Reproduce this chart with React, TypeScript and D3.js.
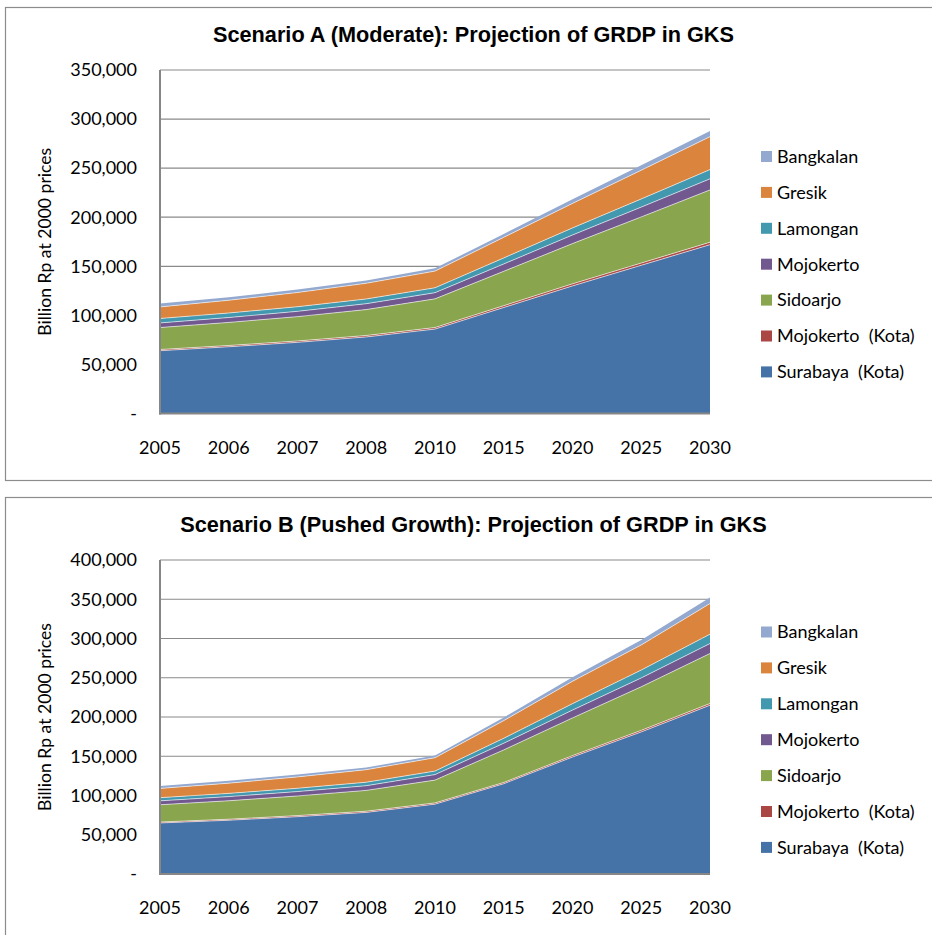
import React from "react";
import * as d3 from "d3";

const years = ["2005", "2006", "2007", "2008", "2010", "2015", "2020", "2025", "2030"];
const seriesNames = ["Surabaya  (Kota)", "Mojokerto  (Kota)", "Sidoarjo", "Mojokerto", "Lamongan", "Gresik", "Bangkalan"];
const seriesColors = ["#4572A7", "#AA4643", "#89A54E", "#71588F", "#4198AF", "#DB843D", "#93A9CF"];

// Scenario A (Moderate), Billion Rp at 2000 prices
const aSurabaya = [64000, 68000, 72500, 78000, 86000, 108000, 130000, 151000, 172000];
const aMojokertoKota = [1200, 1300, 1400, 1500, 1600, 1900, 2100, 2300, 2500];
const aSidoarjo = [22400, 23500, 24800, 26400, 29200, 35000, 41000, 47000, 53300];
const aMojokerto = [4700, 5000, 5400, 6000, 6300, 7500, 8800, 10000, 11300];
const aLamongan = [4500, 4600, 4700, 4800, 5000, 6100, 7200, 8300, 9400];
const aGresik = [11800, 13000, 14500, 16000, 17000, 21000, 25000, 29300, 33600];
const aBangkalan = [3400, 3000, 3000, 2800, 2800, 3500, 4300, 5000, 5700];

// Scenario B (Pushed Growth)
const bSurabaya = [65000, 68500, 73000, 78500, 89000, 115000, 149000, 181000, 215000];
const bMojokertoKota = [1200, 1300, 1400, 1500, 1600, 1600, 1800, 2000, 2200];
const bSidoarjo = [22000, 23500, 25000, 26500, 29000, 41500, 48000, 55500, 63700];
const bMojokerto = [5000, 5300, 5600, 6000, 7000, 8500, 10000, 11300, 12700];
const bLamongan = [4000, 4100, 4200, 4400, 4500, 6300, 8200, 10000, 11900];
const bGresik = [11800, 13000, 14500, 16000, 17000, 22500, 28500, 32000, 39000];
const bBangkalan = [3000, 3000, 3000, 2800, 2800, 4000, 5200, 6400, 7600];

const aTicks = [0, 50000, 100000, 150000, 200000, 250000, 300000, 350000];
const bTicks = [0, 50000, 100000, 150000, 200000, 250000, 300000, 350000, 400000];

const titleA = "Scenario A (Moderate): Projection of GRDP in GKS";
const titleB = "Scenario B (Pushed Growth): Projection of GRDP in GKS";
const yAxisTitle = "Billion Rp at 2000 prices";

const FONT = "Lato, 'Open Sans', sans-serif";
const fmt = d3.format(",");

type ChartProps = {
  title: string;
  series: number[][];
  ticks: number[];
  frameTop: number;
  frameBottom: number;
  plotTop: number;
  plotBottom: number;
  legendTop: number;
};

function Chart({ title, series, ticks, frameTop, frameBottom, plotTop, plotBottom, legendTop }: ChartProps) {
  const plotLeft = 160;
  const plotRight = 710;
  const x = d3.scalePoint<string>().domain(years).range([plotLeft, plotRight]);
  const y = d3
    .scaleLinear()
    .domain([0, ticks[ticks.length - 1]])
    .range([plotBottom, plotTop]);

  const rows = years.map((yr, i) => {
    const r: Record<string, number | string> = { year: yr };
    seriesNames.forEach((n, k) => (r[n] = series[k][i]));
    return r;
  });
  const stacked = d3.stack<any>().keys(seriesNames)(rows as any);
  const area = d3
    .area<any>()
    .x((d) => x(d.data.year) as number)
    .y0((d) => y(d[0]))
    .y1((d) => y(d[1]));
  const topLine = d3
    .line<any>()
    .x((d) => x(d.data.year) as number)
    .y((d) => y(d[1]));

  return (
    <g>
      <rect x={5.5} y={frameTop + 0.5} width={1000} height={frameBottom - frameTop} fill="#fff" stroke="#8c8c8c" strokeWidth={1.2} />
      <text x={473.5} y={frameTop + 35} textAnchor="middle" fontFamily="'Liberation Sans', Arial, sans-serif" fontWeight="bold" fontSize={21.7} fill="#000">
        {title}
      </text>
      {ticks.slice(1).map((t) => (
        <line key={t} x1={plotLeft} x2={plotRight} y1={y(t)} y2={y(t)} stroke="#8a8a8a" strokeWidth={1.2} />
      ))}
      {stacked.map((s, k) => (
        <path key={seriesNames[k]} d={area(s) as string} fill={seriesColors[k]} />
      ))}
      {stacked.slice(0, stacked.length - 1).map((s, k) => (
        <path key={"l" + k} d={topLine(s) as string} fill="none" stroke="#ffffff" strokeOpacity={0.75} strokeWidth={0.8} />
      ))}
      <line x1={plotLeft} x2={plotLeft} y1={plotTop} y2={plotBottom + 1} stroke="#868686" strokeWidth={2} />
      <line x1={plotLeft - 1} x2={plotRight} y1={plotBottom} y2={plotBottom} stroke="#868686" strokeWidth={2} />
      {ticks.map((t) => (
        <text key={"t" + t} x={137} y={y(t)} dy="0.35em" textAnchor="end" fontFamily={FONT} fontSize={18} fill="#000">
          {t === 0 ? "-" : fmt(t)}
        </text>
      ))}
      {years.map((yr) => (
        <text key={yr} x={x(yr) as number} y={plotBottom + 34} dy="0.35em" textAnchor="middle" fontFamily={FONT} fontSize={18} fill="#000">
          {yr}
        </text>
      ))}
      <text
        transform={`translate(45,${(plotTop + plotBottom) / 2}) rotate(-90)`}
        textAnchor="middle"
        dy="0.35em"
        fontFamily={FONT}
        fontSize={17.6}
        fill="#000"
      >
        {yAxisTitle}
      </text>
      {seriesNames
        .map((n, k) => ({ n, k }))
        .reverse()
        .map(({ n, k }, i) => {
          const cy = legendTop + i * 35.9;
          return (
            <g key={"lg" + n}>
              <rect x={761} y={cy - 5.5} width={11} height={11} fill={seriesColors[k]} />
              <text x={777} y={cy} dy="0.35em" fontFamily={FONT} fontSize={18} fill="#000" style={{ whiteSpace: "pre" }}>
                {n}
              </text>
            </g>
          );
        })}
    </g>
  );
}

export default function App() {
  const aSeries = [aSurabaya, aMojokertoKota, aSidoarjo, aMojokerto, aLamongan, aGresik, aBangkalan];
  const bSeries = [bSurabaya, bMojokertoKota, bSidoarjo, bMojokerto, bLamongan, bGresik, bBangkalan];
  return (
    <svg width={932} height={935} style={{ position: "absolute", left: 0, top: 0, background: "#fff" }}>
      <rect width={932} height={935} fill="#fff" />
      <Chart title={titleA} series={aSeries} ticks={aTicks} frameTop={7} frameBottom={480} plotTop={70} plotBottom={413.5} legendTop={156.5} />
      <Chart title={titleB} series={bSeries} ticks={bTicks} frameTop={497} frameBottom={980} plotTop={560} plotBottom={874} legendTop={632} />
    </svg>
  );
}
